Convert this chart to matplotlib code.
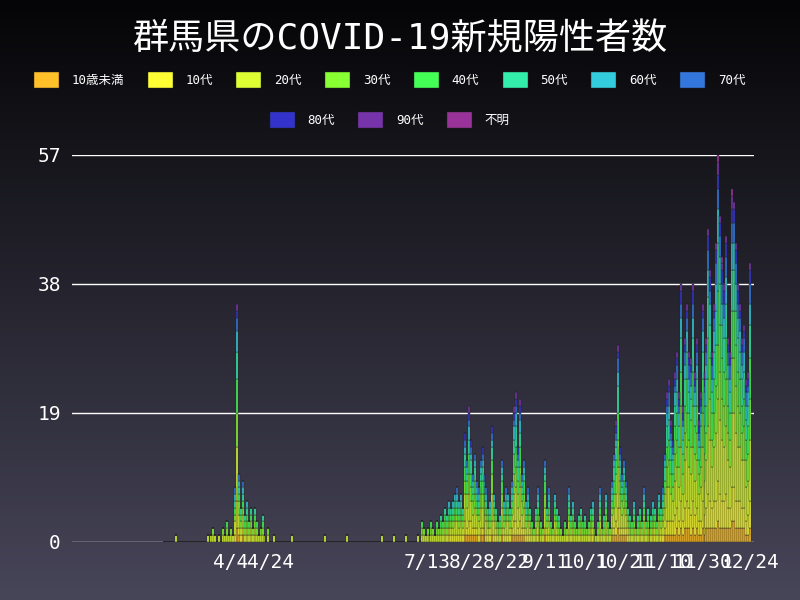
import numpy as np, pandas as pd
import matplotlib
matplotlib.use("Agg")
import matplotlib.pyplot as plt
from matplotlib.colors import LinearSegmentedColormap

plt.rcParams['font.family'] = ['DejaVu Sans Mono', 'Noto Sans CJK JP']

categories = ['10歳未満','10代','20代','30代','40代','50代','60代','70代','80代','90代','不明']
colors = ['#FFC02A','#FFFF33','#DDFF33','#88FF33','#44FF55','#33EEAA','#33CCDD','#3377DD','#3333CC','#7733AA','#993399']
shares = [0.05,0.10,0.22,0.15,0.14,0.12,0.08,0.06,0.04,0.03,0.01]

start = '2020-03-01'
totals = (
 [0,0,0,0,0,0,1,0,0,0]+[0]*10+[0,0,1,0,1,2,1,0,1,0,2]
 +[1,3,1,2,1,8,35,10,5,9]+[4,6,3,5,2,5,3,1,2,4]+[1,0,2,0,0,1,0,0,0,0]
 +[0,0,0,0,1]+[0]*16+[1]+[0]*9
 +[0,1]+[0]*17+[1]+[0]*5+[1]+[0]*4
 +[0,1,0,0,0,0,0,1,0,3,2,1,2,1,3,2,1,3,2,4,3,5,4,6,5,6,7,8,6,7,5]
 +[16,12,20,15,10,13,9,8,12,14,10,8,5,6,17,7,5,3,4,12,6,8,7,5,9,20,22,14,21,10,12]
 +[6,8,5,3,2,5,8,4,3,2,12,5,8,3,2,7,5,4,2,1,3,2,8,4,6,3,2,4,5,3]
 +[4,2,3,5,6,2,1,3,8,2,4,7,3,2,9,13,18,29,14,10,12,9,5,4,3,6,2,4,5,3,8]
 +[3,5,2,4,6,5,3,7,5,8,13,22,24,18,15,25,28,22,38,20,30,35,28,27,38,25,30,18,22,35]
 +[25,30,46,40,28,35,44,57,48,42,38,45,30,28,52,50,44,38,35,30,32,24,25,41]
)
dates = pd.date_range(start, periods=len(totals))

vals = np.zeros((len(categories), len(totals)), dtype=int)
sh = np.array(shares)
for j, t in enumerate(totals):
    raw = sh * t
    base = np.floor(raw).astype(int)
    rem = t - base.sum()
    order = np.argsort(-(raw - base), kind='stable')
    base[order[:rem]] += 1
    vals[:, j] = base

fig = plt.figure(figsize=(8, 6), dpi=100)
bg = fig.add_axes([0, 0, 1, 1], zorder=-10)
grad = np.linspace(0, 1, 256).reshape(-1, 1)
cm = LinearSegmentedColormap.from_list('g', ['#050507', '#474558'])
bg.imshow(grad, aspect='auto', cmap=cm, extent=[0, 1, 0, 1])
bg.axis('off')

ax = fig.add_axes([0.09, 0.097, 0.852, 0.645])
ax.patch.set_alpha(0)
bottom = np.zeros(len(totals))
for i, c in enumerate(categories):
    ax.bar(dates, vals[i], bottom=bottom, width=1.0, color=colors[i], edgecolor='#222222', linewidth=0.3, label=c)
    bottom += vals[i]

ax.set_ylim(0, 57)
ax.set_yticks([0, 19, 38, 57])
ax.set_xlim(pd.Timestamp('2020-01-14'), pd.Timestamp('2020-12-26'))
ax.grid(axis='y', color='white', linewidth=1)
ax.set_axisbelow(True)
xt = pd.to_datetime(['2020-04-04','2020-04-24','2020-07-13','2020-08-02','2020-08-22','2020-09-11','2020-10-01','2020-10-21','2020-11-10','2020-11-30','2020-12-24'])
ax.set_xticks(xt)
ax.set_xticklabels([f'{d.month}/{d.day}' for d in xt])
for s in ax.spines.values():
    s.set_visible(False)
ax.tick_params(colors='white', labelsize=14, length=0, pad=8)

fig.text(0.5, 0.935, '群馬県のCOVID-19新規陽性者数', color='white', fontsize=26, ha='center', va='center')
h, l = ax.get_legend_handles_labels()
kw = dict(frameon=False, labelcolor='white', fontsize=9, handlelength=2.0, handleheight=1.6,
          columnspacing=1.9, handletextpad=1.0)
fig.legend(h[:8], l[:8], loc='center', bbox_to_anchor=(0.487, 0.867), ncol=8, **kw)
fig.legend(h[8:], l[8:], loc='center', bbox_to_anchor=(0.487, 0.8), ncol=3, **kw)

fig.savefig('out.png', dpi=100)
